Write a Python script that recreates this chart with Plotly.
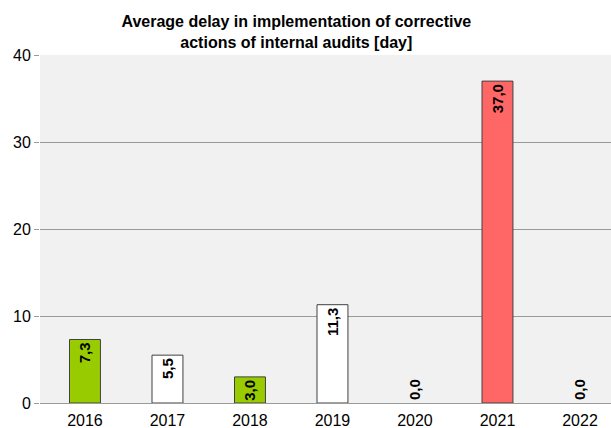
import plotly.graph_objects as go

years = ["2016", "2017", "2018", "2019", "2020", "2021", "2022"]
delay = [7.3, 5.5, 3.0, 11.3, 0.0, 37.0, 0.0]
bar_colors = ["#99CC00", "#FFFFFF", "#99CC00", "#FFFFFF", "#FFFFFF", "#FF6666", "#FFFFFF"]
labels = [f"{v:.1f}".replace(".", ",") for v in delay]
y_ticks = [0, 10, 20, 30, 40]

fig = go.Figure()

fig.add_trace(go.Bar(
    x=years, y=delay,
    width=0.375,
    marker=dict(color=bar_colors,
                line=dict(color="#404040", width=[1 if v > 0 else 0 for v in delay])),
    text=labels,
    textposition=["inside" if v > 0 else "outside" for v in delay],
    insidetextanchor="end",
    textangle=-90,
    constraintext="none",
    cliponaxis=False,
    textfont=dict(family="Liberation Sans", size=15, color="black", weight="bold"),
))

fig.update_layout(
    width=611, height=428,
    margin=dict(l=40, r=0, t=55, b=25),
    paper_bgcolor="white",
    plot_bgcolor="#F1F1F1",
    showlegend=False,
    title=dict(
        text="Average delay in implementation of corrective<br>actions of internal audits [day]",
        x=0.485, xanchor="center", y=0.937, yanchor="middle",
        font=dict(family="Liberation Sans", size=16, color="black", weight="bold"),
    ),
    font=dict(family="Liberation Sans", size=16, color="black"),
)

fig.update_xaxes(
    type="category", range=[-0.545, 6.376],
    showgrid=False, showline=False,
    ticks="outside", ticklen=3, tickcolor="rgba(0,0,0,0)",
    tickfont=dict(size=16), automargin=False,
)
fig.update_yaxes(
    range=[0, 40], tickvals=y_ticks,
    showgrid=True, gridcolor="#9A9A9A", gridwidth=1,
    zeroline=True, zerolinecolor="#9A9A9A", zerolinewidth=1,
    ticks="outside", ticklen=5, tickcolor="#9A9A9A",
    showline=False, tickfont=dict(size=16), automargin=False,
)

fig.write_html("out.html", config={"displayModeBar": False},
               post_script="document.body.style.margin='0';")
